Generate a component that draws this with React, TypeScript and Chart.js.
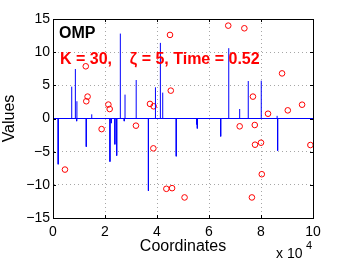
import React, { useEffect, useRef } from "react";
import { Chart, registerables } from "chart.js";

Chart.register(...registerables);

// ---- data (x in units of 10^4) ----
const stemX = [0.2, 0.72, 0.86, 0.91, 0.92, 1.28, 1.49, 2.19, 2.24, 2.38, 2.45, 2.59, 2.74, 2.77, 3.2, 3.67, 3.94, 4.13, 4.22, 4.74, 5.53, 5.55, 6.45, 6.76, 7.18, 7.51, 8.01, 8.62, 8.64];
const stemY = [-6.9, 4.8, 7.46, -0.4, 2.6, -4.25, 0.63, -6.5, -0.7, -3.9, -5.6, 12.8, -0.4, 3.6, 5.8, -10.9, 4.7, 11.4, 3.9, -5.7, -0.9, -1.5, -2.7, 10.6, 1.43, 5.65, 5.7, 0.4, -4.85];
const circleX = [0.46, 1.26, 1.33, 1.28, 1.87, 2.13, 2.18, 3.19, 4.5, 4.53, 3.73, 3.87, 3.86, 4.36, 4.58, 5.06, 6.74, 7.36, 8.81, 7.69, 8.27, 9.03, 9.58, 7.18, 7.76, 7.77, 8.0, 9.9, 8.03, 7.65];
const circleY = [-7.7, 7.87, 3.3, 2.6, -1.6, 2.1, 1.43, -1.08, 12.6, 4.2, 2.2, 1.84, -4.5, -10.6, -10.5, -11.9, 14.0, 13.6, 6.8, 3.3, 0.72, 1.23, 2.08, -1.18, -0.98, -3.95, -3.65, -4.0, -8.4, -11.9];
const xTicks = [0, 2, 4, 6, 8, 10];
const yTicks = [-15, -10, -5, 0, 5, 10, 15];
const baselineX = [0, 10];
const methodLabel = "OMP";
const infoLabel = "K = 30,    \u03B6 = 5, Time = 0.52";
const xTitle = "Coordinates";
const yTitle = "Values";
const xExponentBase = "x 10";
const xExponent = "4";

const FONT = "'Liberation Sans', Arial, Helvetica, sans-serif";

export default function App() {
  const ref = useRef<HTMLCanvasElement | null>(null);

  useEffect(() => {
    document.body.style.margin = "0";
    const canvas = ref.current;
    if (!canvas) return;

    const stemData: any[] = [];
    stemX.forEach((x, i) => {
      stemData.push({ x, y: 0 });
      stemData.push({ x, y: stemY[i] });
      stemData.push({ x, y: null });
    });

    const overlay = {
      id: "overlay",
      afterDraw(chart: any) {
        const { ctx, chartArea: a, scales } = chart;
        const xs = scales.x;
        const ys = scales.y;
        ctx.save();
        // box
        ctx.strokeStyle = "#000";
        ctx.lineWidth = 1;
        ctx.strokeRect(Math.round(a.left) + 0.5, Math.round(a.top) + 0.5, Math.round(a.right - a.left), Math.round(a.bottom - a.top));
        // inward ticks
        ctx.beginPath();
        xTicks.forEach((t) => {
          const px = Math.round(xs.getPixelForValue(t)) + 0.5;
          ctx.moveTo(px, a.bottom);
          ctx.lineTo(px, a.bottom - 3);
          ctx.moveTo(px, a.top);
          ctx.lineTo(px, a.top + 3);
        });
        yTicks.forEach((t) => {
          const py = Math.round(ys.getPixelForValue(t)) + 0.5;
          ctx.moveTo(a.left, py);
          ctx.lineTo(a.left + 3, py);
          ctx.moveTo(a.right, py);
          ctx.lineTo(a.right - 3, py);
        });
        ctx.stroke();

        // annotations
        ctx.textBaseline = "alphabetic";
        ctx.textAlign = "left";
        ctx.fillStyle = "#000";
        ctx.font = `bold 16px ${FONT}`;
        ctx.fillText(methodLabel, a.left + 6, a.top + 18.5);
        ctx.fillStyle = "#ff0000";
        ctx.fillText(infoLabel, a.left + 7, a.top + 44.5);

        // exponent
        ctx.fillStyle = "#000";
        ctx.font = `14px ${FONT}`;
        ctx.fillText(xExponentBase, 276, 258);
        ctx.font = `11px ${FONT}`;
        ctx.fillText(xExponent, 306, 249);
        ctx.restore();
      },
    };

    const chart = new Chart(canvas, {
      type: "scatter",
      data: {
        datasets: [
          {
            label: "baseline",
            data: baselineX.map((x) => ({ x, y: 0 })),
            showLine: true,
            borderColor: "#0000ff",
            borderWidth: 1,
            pointRadius: 0,
          },
          {
            label: "stems",
            data: stemData,
            showLine: true,
            spanGaps: false,
            borderColor: "#0000ff",
            borderWidth: 1,
            pointRadius: 0,
          },
          {
            label: "estimate",
            data: circleX.map((x, i) => ({ x, y: circleY[i] })),
            showLine: false,
            pointStyle: "circle",
            pointRadius: 2.8,
            borderColor: "#ff0000",
            backgroundColor: "rgba(0,0,0,0)",
            borderWidth: 1,
          },
        ],
      },
      options: {
        responsive: false,
        animation: false,
        devicePixelRatio: 1,
        layout: { padding: { left: 0, top: 19, right: 33, bottom: 0 } },
        plugins: { legend: { display: false }, tooltip: { enabled: false }, title: { display: false } },
        scales: {
          x: {
            type: "linear",
            min: 0,
            max: 10,
            afterFit: (s: any) => {
              s.height = 42;
            },
            afterBuildTicks: (s: any) => {
              s.ticks = xTicks.map((v) => ({ value: v }));
            },
            ticks: {
              color: "#000",
              font: { family: FONT, size: 14 },
              padding: 6,
              maxRotation: 0,
              callback: (v: any) => String(v),
            },
            grid: { color: "rgba(0,0,0,0.35)", drawTicks: false, lineWidth: 1 },
            border: { display: true, color: "#000", dash: [1, 3] },
            title: { display: true, text: xTitle, color: "#000", font: { family: FONT, size: 16 }, padding: { top: 0, bottom: 4 } },
          },
          y: {
            type: "linear",
            min: -15,
            max: 15,
            afterFit: (s: any) => {
              s.width = 53;
            },
            afterBuildTicks: (s: any) => {
              s.ticks = yTicks.map((v) => ({ value: v }));
            },
            ticks: {
              color: "#000",
              font: { family: FONT, size: 14 },
              padding: 3,
              callback: (v: any) => (v < 0 ? "\u2212" + Math.abs(v) : String(v)),
            },
            grid: { color: "rgba(0,0,0,0.35)", drawTicks: false, lineWidth: 1 },
            border: { display: true, color: "#000", dash: [1, 3] },
            title: { display: true, text: yTitle, color: "#000", font: { family: FONT, size: 16 }, padding: { top: 0, bottom: 0 } },
          },
        },
      },
      plugins: [overlay],
    });

    return () => chart.destroy();
  }, []);

  return <canvas ref={ref} width={346} height={260} style={{ display: "block" }} />;
}
